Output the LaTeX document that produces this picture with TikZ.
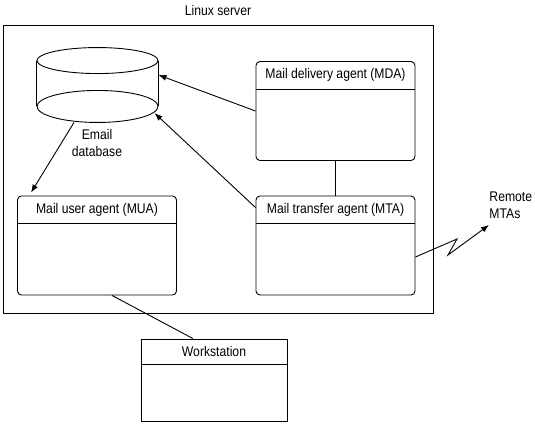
\documentclass[tikz,border=0pt]{standalone}
\usepackage{fontspec}
\setmainfont{Liberation Sans}[FakeStretch=0.87]
\usetikzlibrary{arrows.meta,calc}

\begin{document}
\begin{tikzpicture}[x=1pt,y=-1pt,line width=0.9pt,
  agent/.style={draw,rounded corners=4pt,minimum width=159pt,minimum height=99pt,inner sep=0pt},
  title/.style={font=\fontsize{14}{16.5}\selectfont,inner sep=0pt},
  arr/.style={-{Latex[length=8pt,width=6pt]}}]
\useasboundingbox (0,0) rectangle (535,426);

% Linux server frame
\node[draw,minimum width=430pt,minimum height=288pt,inner sep=0pt] (srv) at (218,169) {};
\node[title] (srvlbl) at (218,10) {Linux server};

% agents
\node[agent] (mda) at (335.5,111) {};
\node[agent] (mta) at (335.5,245.5) {};
\node[agent] (mua) at (97,245.5) {};
\foreach \b/\t in {mda/Mail delivery agent (MDA),mta/Mail transfer agent (MTA),mua/Mail user agent (MUA)} {
  \node[title] (\b-t) at ([yshift=-14pt]\b.north) {\t};
  \draw ([yshift=-28pt]\b.north west) -- ([yshift=-28pt]\b.north east);
}

\node[draw,minimum width=146pt,minimum height=82pt,inner sep=0pt] (ws) at (214,380) {};
\node[title] (ws-t) at ([yshift=-13pt]ws.north) {Workstation};
\draw ([yshift=-26pt]ws.north west) -- ([yshift=-26pt]ws.north east);

% Email database cylinder
\node[minimum width=121pt,minimum height=74pt,inner sep=0pt] (db) at (97.5,85) {};
\draw ([yshift=-13pt]db.north) ellipse [x radius=60.5, y radius=13];
\draw ([yshift=16pt]db.south) ellipse [x radius=60.5, y radius=16];
\draw ([yshift=-13pt]db.north west) -- ([yshift=16pt]db.south west);
\draw ([yshift=-13pt]db.north east) -- ([yshift=16pt]db.south east);
\node[title,align=center] (db-t) at (97,143) {Email\\database};

% connectors
\draw[arr] ([xshift=-23.5pt]db.south) -- ([xshift=14pt,yshift=3pt]mua.north west);
\draw[arr] (mda.west) -- ([yshift=10pt]db.east);
\draw[arr] ([yshift=-12pt]mta.north west) -- ([xshift=-4pt,yshift=-28pt]db.east);
\draw (mda.south) -- (mta.north);
\draw ([xshift=15pt]mua.south) -- ([xshift=-21pt]ws.north);

% link to remote MTAs
\node[title,align=left,anchor=west] (rmt) at (489,205) {Remote\\MTAs};
\coordinate (zz1) at (457,239);
\coordinate (zz2) at (448,255);
\coordinate (rmtip) at (489,225);
\draw[arr] ([yshift=-11.5pt]mta.east) -- (zz1) -- (zz2) -- (rmtip);

\end{tikzpicture}
\end{document}
